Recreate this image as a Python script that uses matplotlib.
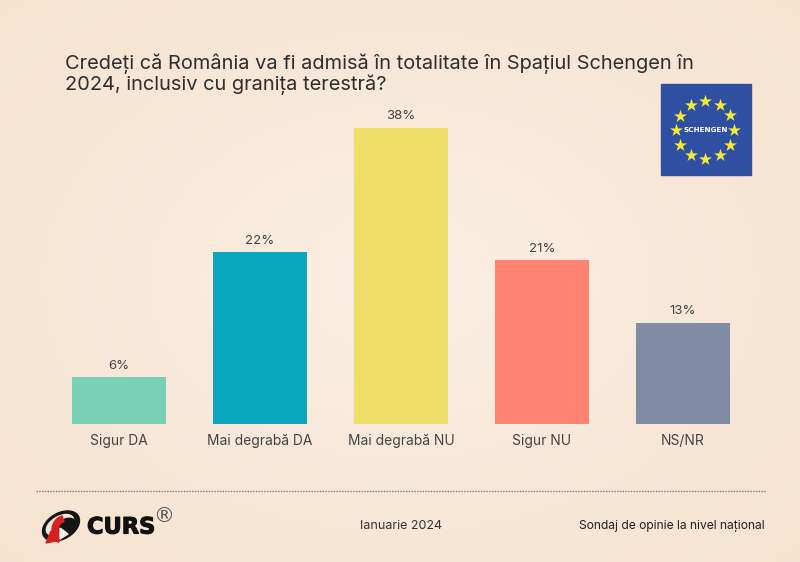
import numpy as np
import matplotlib
matplotlib.use('Agg')
import matplotlib.pyplot as plt
import matplotlib.patheffects as pe
from matplotlib.patches import Ellipse, Polygon, Rectangle, Wedge

categories = ['Sigur DA', 'Mai degrabă DA', 'Mai degrabă NU', 'Sigur NU', 'NS/NR']
values = [6, 22, 38, 21, 13]
bar_colors = ['#78d0b6', '#0ba6bd', '#f0de6b', '#ff8272', '#7f8ca3']

title_text = 'Credeți că România va fi admisă în totalitate în Spațiul Schengen în\n2024, inclusiv cu granița terestră?'
date_text = 'Ianuarie 2024'
source_text = 'Sondaj de opinie la nivel național'

W, H = 800, 562
plt.rcParams['font.family'] = ['Inter', 'DejaVu Sans']

fig = plt.figure(figsize=(W / 100, H / 100), dpi=100)

# background, light in the middle and a bit darker at the edges
bg = fig.add_axes([0, 0, 1, 1])
yy, xx = np.mgrid[0:1:281j, 0:1:400j]
r = np.clip(np.sqrt(((xx - 0.5) / 0.75) ** 2 + ((yy - 0.5) / 0.75) ** 2), 0, 1)[..., None]
inner = np.array([0xfb, 0xee, 0xe2]) / 255
outer = np.array([0xf6, 0xe2, 0xcf]) / 255
bg.imshow(inner + (outer - inner) * r, extent=[0, W, H, 0], aspect='auto', interpolation='bilinear')
bg.set_xlim(0, W)
bg.set_ylim(H, 0)
bg.axis('off')

# bars
ax = fig.add_axes([48.5 / W, (H - 424) / H, 705 / W, 312 / H])
ax.patch.set_alpha(0)
x = np.arange(len(categories))
bars = ax.bar(x, values, width=94 / 141, color=bar_colors)
ax.bar_label(bars, labels=[f'{v}%' for v in values], padding=4, fontsize=9.5, color='#444444')
ax.set_xlim(-0.5, 4.5)
ax.set_ylim(0, 40)
ax.set_xticks(x, categories)
ax.set_yticks([])
ax.tick_params(axis='x', length=0, pad=7, labelsize=9.95, labelcolor='#444444')
for s in ax.spines.values():
    s.set_visible(False)

bg.text(65, 74, title_text, fontsize=14.4, color='#2e2e2e', linespacing=1.02, va='center', ha='left')

# Schengen flag
bg.add_patch(Rectangle((661, 84), 90, 91, color='#2f4fa3', zorder=2))
ang = np.deg2rad(np.arange(0, 360, 30))
bg.scatter(705 + 29 * np.cos(ang), 130 + 29 * np.sin(ang), marker='*', s=95, color='#f3e93a', linewidths=0, zorder=3)
bg.text(705.5, 130.5, 'SCHENGEN', fontsize=5.2, fontweight='bold', family=['DejaVu Sans'], color='white', ha='center', va='center', zorder=4)

# footer
bg.plot([36, 766], [491, 491], color='#777777', lw=1, ls=(0, (1, 1)))
bg.text(401, 526, date_text, fontsize=9, color='#333333', ha='center', va='center')
bg.text(765, 526, source_text, fontsize=8.7, color='#222222', ha='right', va='center')

# CURS logo
bg.add_patch(Ellipse((61, 526), 40, 26, angle=-30, color='#151515', zorder=2))
bg.add_patch(Ellipse((60, 525), 30, 17, angle=-30, color='#f7e6d8', zorder=3))
bg.add_patch(Ellipse((64, 527), 25, 14, angle=-30, color='#151515', zorder=3))
bg.add_patch(Wedge((67, 530), 15, 125, 250, width=6, color='#d8201f', zorder=4))
bg.add_patch(Polygon([(46, 543), (51, 531), (56, 541)], color='#d8201f', zorder=4))
bg.add_patch(Polygon([(60, 528), (68, 534), (60, 539)], color='#f5f0ea', zorder=5))
txt = bg.text(87, 527.5, 'CURS', fontsize=16.2, fontweight='bold', family=['DejaVu Sans'], color='#111111', va='center', ha='left')
txt.set_path_effects([pe.withStroke(linewidth=0.8, foreground='#111111')])
bg.text(164, 516, '®', fontsize=15, family=['DejaVu Sans'], color='#555555', ha='center', va='center')

fig.savefig('out.png', dpi=100)
